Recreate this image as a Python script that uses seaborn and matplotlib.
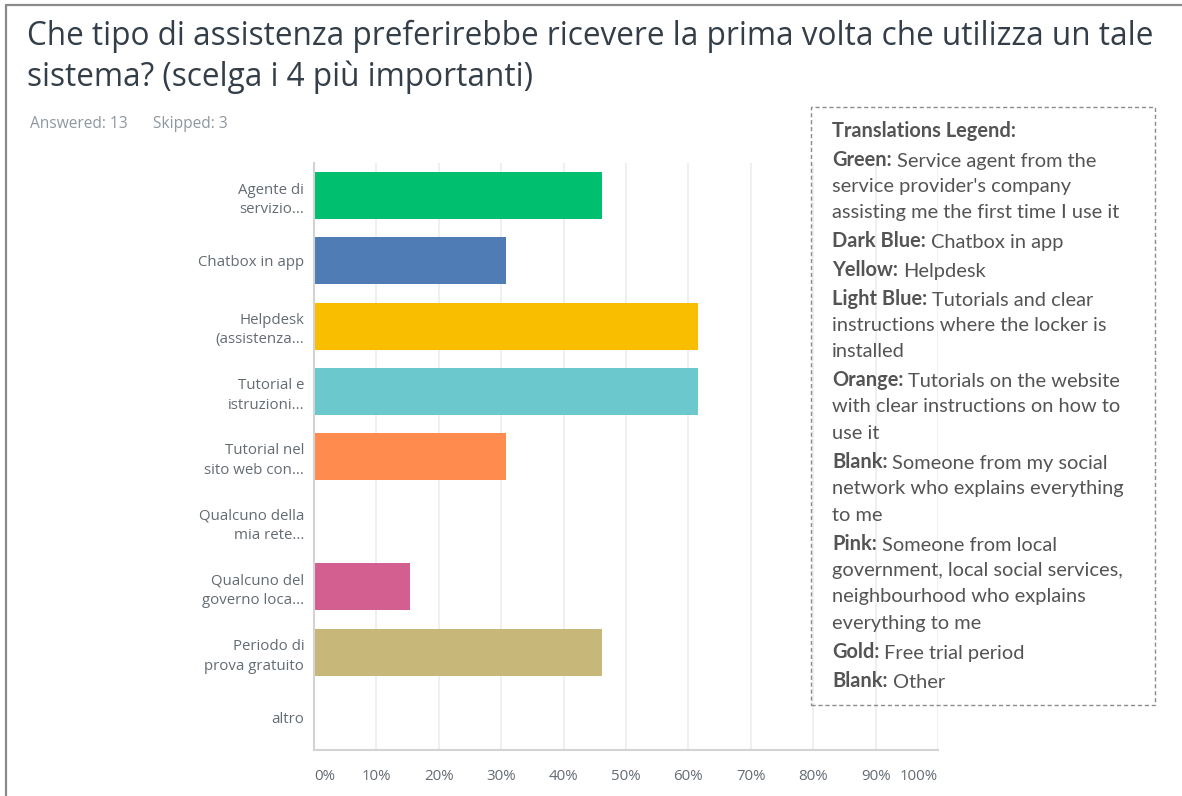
import matplotlib
matplotlib.use("Agg")
import matplotlib.pyplot as plt
import seaborn as sns
import pandas as pd
from matplotlib.patches import Rectangle
from matplotlib.lines import Line2D

# ---- data -------------------------------------------------------------
categories = [
    "Agente di\nservizio...",
    "Chatbox in app",
    "Helpdesk\n(assistenza...",
    "Tutorial e\nistruzioni...",
    "Tutorial nel\nsito web con...",
    "Qualcuno della\nmia rete...",
    "Qualcuno del\ngoverno loca...",
    "Periodo di\nprova gratuito",
    "altro",
]
responses = [6, 4, 8, 8, 4, 0, 2, 6, 0]
answered = 13
skipped = 3
bar_colors = ["#00BF6F", "#507CB6", "#F9BE00", "#6BC8CD", "#FF8B4F",
              "#7F7F7F", "#D25F90", "#C7B879", "#A5A5A5"]
x_ticks = [0, 10, 20, 30, 40, 50, 60, 70, 80, 90, 100]
x_tick_labels = [f"{t}%" for t in x_ticks]

title = ("Che tipo di assistenza preferirebbe ricevere la prima volta che utilizza un tale\n"
         "sistema? (scelga i 4 più importanti)")

legend_title = "Translations Legend:"
legend_entries = [
    ("Green:", ["Service agent from the", "service provider's company",
                "assisting me the first time I use it"]),
    ("Dark Blue:", ["Chatbox in app"]),
    ("Yellow:", ["Helpdesk"]),
    ("Light Blue:", ["Tutorials and clear", "instructions where the locker is",
                     "installed"]),
    ("Orange:", ["Tutorials on the website", "with clear instructions on how to",
                 "use it"]),
    ("Blank:", ["Someone from my social", "network who explains everything",
                "to me"]),
    ("Pink:", ["Someone from local", "government, local social services,",
               "neighbourhood who explains", "everything to me"]),
    ("Gold:", ["Free trial period"]),
    ("Blank:", ["Other"]),
]

percent = [100.0 * r / answered for r in responses]
df = pd.DataFrame({"option": categories, "percent": percent})

# ---- figure -----------------------------------------------------------
W, H = 1182, 796
sns.set_theme(style="white")
plt.rcParams["font.family"] = ["Open Sans", "DejaVu Sans"]

fig = plt.figure(figsize=(W / 100, H / 100), dpi=100)
fig.patch.set_facecolor("white")


def fx(px):
    return px / W


def fy(py):
    return 1 - py / H


ax = fig.add_axes([fx(314), fy(750), fx(938) - fx(314), fy(163) - fy(750)])

sns.barplot(data=df, x="percent", y="option", hue="option",
            palette=dict(zip(categories, bar_colors)), orient="h",
            width=0.72, legend=False, ax=ax, saturation=1,
            edgecolor="none", linewidth=0)

ax.set_xlim(0, 100)
ax.set_ylim(len(categories) - 0.5, -0.5)
ax.set_xlabel("")
ax.set_ylabel("")

ax.set_xticks(x_ticks)
ax.set_xticklabels(x_tick_labels)
for lbl, t in zip(ax.get_xticklabels(), x_ticks):
    lbl.set_horizontalalignment("left" if t == 0 else ("right" if t == 100 else "center"))
ax.tick_params(axis="x", length=0, pad=14, labelsize=10.8, labelcolor="#636b73")
ax.tick_params(axis="y", length=0, pad=7, labelsize=10.8, labelcolor="#636b73")
for lbl in ax.get_yticklabels():
    lbl.set_linespacing(1.4)

ax.grid(axis="x", color="#ececec", linewidth=1.2)
ax.set_axisbelow(True)
for side in ("top", "right"):
    ax.spines[side].set_visible(False)
for side in ("left", "bottom"):
    ax.spines[side].set_color("#d3d3d3")
    ax.spines[side].set_linewidth(1.5)

# ---- title and counts -------------------------------------------------
fig.text(fx(27), fy(57), title, fontsize=22.7, color="#333e48",
         ha="left", va="center", linespacing=1.27)
fig.text(fx(30), fy(124), f"Answered: {answered}", fontsize=11.2,
         color="#8f979e", ha="left", va="center")
fig.text(fx(153), fy(124), f"Skipped: {skipped}", fontsize=11.2,
         color="#8f979e", ha="left", va="center")

# ---- page frame -------------------------------------------------------
fig.add_artist(Line2D([fx(6), fx(6)], [0, fy(5)], transform=fig.transFigure,
                      color="#8a8a8a", linewidth=1.6))
fig.add_artist(Line2D([fx(6), 1], [fy(5), fy(5)], transform=fig.transFigure,
                      color="#8a8a8a", linewidth=1.6))

# ---- translations box -------------------------------------------------
fig.add_artist(Rectangle((fx(811), fy(705)), fx(1155) - fx(811), fy(107) - fy(705),
                         transform=fig.transFigure, fill=False,
                         edgecolor="#8c8c8c", linestyle=(0, (3, 2)), linewidth=1))

text_color = "#545454"
legend_font = ["Lato", "DejaVu Sans"]
legend_size = 14.4
x0 = fx(832)
y = 131
fig.text(x0, fy(y), legend_title, fontsize=legend_size, fontweight="bold",
         color=text_color, ha="left", va="center", family=legend_font)
for head, lines in legend_entries:
    y += 28.7
    bold = fig.text(x0, fy(y), head, fontsize=legend_size, fontweight="bold",
                    color=text_color, ha="left", va="center", family=legend_font)
    fig.add_artist(matplotlib.text.Annotation(
        lines[0], xy=(1, 0), xycoords=bold, xytext=(5, 0),
        textcoords="offset pixels", fontsize=legend_size, color=text_color,
        ha="left", va="bottom", family=legend_font))
    for extra in lines[1:]:
        y += 26.5
        fig.text(x0, fy(y), extra, fontsize=legend_size, color=text_color,
                 ha="left", va="center", family=legend_font)

fig.savefig("out.png", dpi=100, facecolor="white")
